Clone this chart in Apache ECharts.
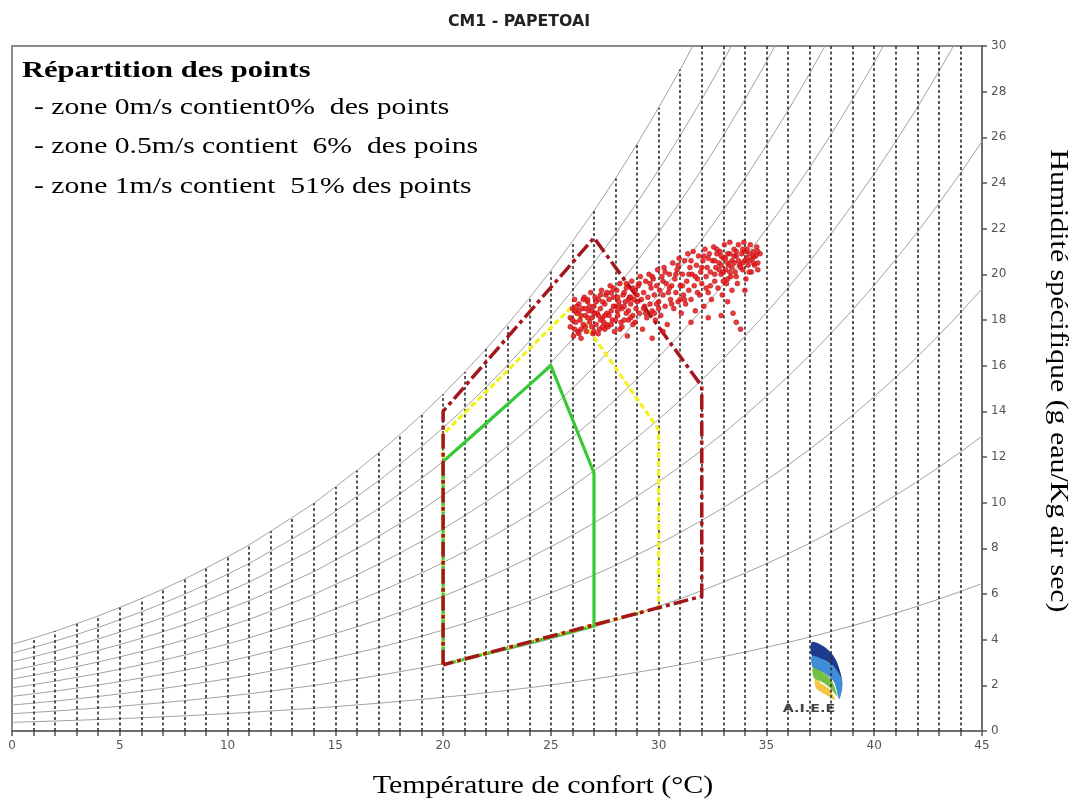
<!DOCTYPE html>
<html><head><meta charset="utf-8">
<script src="https://cdn.jsdelivr.net/npm/echarts/dist/echarts.min.js"></script>
<style>html,body{margin:0;padding:0;background:#fff}#chart{width:1077px;height:803px}</style>
</head><body><div id="chart"></div>
<script>
// ---------- texts ----------
const chartTitle = 'CM1 - PAPETOAI';
const xAxisTitle = 'Température de confort (°C)';
const yAxisTitle = 'Humidité spécifique (g eau/Kg air sec)';
const boxTitle = 'Répartition des points';
const boxLines = [
  '- zone 0m/s contient0%  des points',
  '- zone 0.5m/s contient  6%  des poins',
  '- zone 1m/s contient  51% des points'
];
const logoText = 'A.I.E.E';

// ---------- psychrometric background ----------
const temps = [0,1,2,3,4,5,6,7,8,9,10,11,12,13,14,15,16,17,18,19,20,21,22,23,24,25,26,27,28,29,30,31,32,33,34,35,36,37,38,39,40,41,42,43,44,45];
const satHumidity = [3.79,4.07,4.37,4.70,5.04,5.41,5.80,6.21,6.65,7.13,7.63,8.15,8.75,9.35,9.97,10.69,11.41,12.17,12.99,13.84,14.75,15.72,16.74,17.82,18.96,20.17,21.44,22.78,24.20,25.71,27.30,28.97,30.74,32.60,34.57,36.64,38.82,41.12,43.55,46.11,48.81,51.64,54.62,57.77,61.07,64.56];
const rhLevels = [10,20,30,40,50,60,70,80,90,100];
const xTickLabels = [0,5,10,15,20,25,30,35,40,45];
const yTickLabels = [0,2,4,6,8,10,12,14,16,18,20,22,24,26,28,30];

// ---------- comfort zones ----------
const zone1T  = [20, 20, 27, 32, 32, 20];
const zone1H  = [2.9, 14.0, 21.6, 15.1, 5.9, 2.9];
const zone05T = [20, 20, 26, 30, 30, 20];
const zone05H = [2.9, 13.0, 18.6, 13.2, 5.4, 2.9];
const zone0T  = [20, 20, 25, 27, 27, 20];
const zone0H  = [2.9, 11.8, 16.0, 11.3, 4.6, 2.9];

// ---------- measured points (T °C, humidity g/kg) ----------
const comfortPoints = [
[25.9,18.1],[25.9,17.7],[26.0,18.5],[26.05,17.3],[26.1,18.9],[26.15,17.9],[26.2,18.3],[26.25,17.5],[26.3,18.7],[26.35,18.0],
[26.4,17.2],[26.45,18.5],[26.5,17.8],[26.55,19.0],[26.6,18.2],[26.65,17.5],[26.7,18.8],[26.75,18.4],[26.8,17.9],[26.85,19.2],
[26.9,18.1],[26.95,17.4],[27.0,18.6],[27.05,19.0],[27.1,17.8],[27.15,18.3],[27.2,18.9],[27.25,17.6],[27.3,18.5],[27.35,19.3],
[27.4,18.1],[27.45,17.9],[27.5,18.7],[27.55,19.1],[27.6,18.3],[27.65,17.7],[27.7,18.9],[27.75,19.5],[27.8,18.4],[27.85,18.0],
[27.9,19.0],[27.95,17.5],[28.0,18.6],[28.05,19.3],[28.1,18.2],[28.15,18.8],[28.2,19.6],[28.25,17.9],[28.3,18.5],[28.35,19.1],
[28.4,18.0],[28.45,18.8],[28.5,19.4],[28.55,17.3],[28.6,18.4],[28.65,19.0],[28.7,18.7],[28.75,19.7],[28.8,18.2],[28.85,18.9],
[28.9,19.3],[28.95,18.5],
[26.0,18.0],[26.1,17.6],[26.2,18.6],[26.3,17.4],[26.4,18.2],[26.5,18.9],[26.6,17.7],[26.7,18.1],[26.8,18.6],[26.9,17.7],
[27.0,18.3],[27.1,18.8],[27.2,17.4],[27.3,18.0],[27.4,18.8],[27.5,17.6],[27.6,19.2],[27.7,18.2],[27.8,17.8],[27.9,18.6],
[28.0,18.0],[28.1,19.0],[28.2,18.6],[28.3,17.7],[28.4,19.2],[28.5,18.3],[28.6,18.9],[28.7,18.1],[28.8,19.4],[28.9,17.9],
[29.0,18.8],[29.05,19.5],[29.1,18.3],[29.15,19.9],[29.2,18.9],[29.25,17.6],[29.3,19.2],[29.35,18.6],[29.4,19.7],[29.45,18.1],
[29.5,19.0],[29.55,20.0],[29.6,18.7],[29.65,19.4],[29.7,18.4],[29.75,19.8],[29.8,19.1],[29.85,18.0],[29.9,19.5],[29.95,20.2],
[30.0,18.8],[30.05,19.3],[30.1,18.2],[30.15,19.9],[30.2,19.1],[30.25,20.3],[30.3,18.6],[30.35,19.6],[30.4,17.8],[30.45,19.2],
[30.5,20.0],[30.55,18.9],[30.6,19.5],[30.65,20.5],[30.7,18.5],[30.75,19.8],[30.8,19.2],[30.85,20.2],[30.9,18.8],[30.95,20.7],
[31.0,19.5],[31.05,18.3],[31.1,20.0],[31.15,19.1],[31.2,20.6],[31.25,18.7],[31.3,19.7],[31.35,20.9],[31.4,19.3],[31.45,20.3],
[31.5,18.9],[31.55,20.0],[31.6,21.0],[31.65,19.5],[31.7,18.4],[31.75,20.4],[31.8,19.8],[31.85,20.8],[31.9,19.1],[31.95,20.1],
[32.0,19.6],[32.05,20.6],[32.1,18.6],[32.15,21.1],[32.2,19.9],[32.25,20.3],[32.3,19.2],[32.35,20.9],[32.4,20.1],[32.45,18.9],
[32.5,20.6],[32.55,21.2],[32.6,19.7],[32.65,20.3],[32.7,20.9],[32.75,19.4],[32.8,20.5],[32.85,21.0],[32.9,20.0],[32.95,19.1],
[33.0,20.7],[33.05,21.3],[33.1,20.2],[33.15,19.6],[33.2,20.9],[33.25,20.4],[33.3,21.4],[33.35,19.9],[33.4,20.6],[33.45,18.3],
[33.5,21.1],[33.55,20.1],[33.6,20.8],[33.65,19.6],[33.7,21.3],[33.75,20.4],[33.8,17.6],[33.85,20.9],[33.9,20.2],[33.95,21.4],
[34.0,20.6],[34.05,19.8],[34.1,21.1],[34.15,20.4],[34.2,20.9],[34.25,21.3],[34.3,20.1],[34.35,20.7],[34.4,21.0],[34.45,20.4],
[34.5,20.8],[34.55,21.2],[34.6,20.5],[34.7,20.9],
[32.6,20.0],[32.8,20.2],[33.0,20.1],[33.1,20.7],[33.3,20.1],[33.4,20.3],[33.6,21.0],[33.7,20.6],[33.9,20.5],[34.0,21.0],
[34.2,20.6],[34.4,20.5],[33.2,19.8],[32.9,20.8],[33.5,20.5],
[32.9,18.2],[33.2,18.8],[31.5,17.9],[30.2,17.5],[34.0,19.3],[33.6,17.9],[29.7,17.2],[32.3,18.1],
[26.3,18.4],[26.6,18.5],[26.9,18.4],[27.2,18.2],[27.5,18.2],[27.8,19.2],[28.1,18.4],[28.4,18.6],[28.7,19.0],[29.0,19.1],
[29.3,18.5],[29.6,19.6],[29.9,18.7],[30.2,19.7],[30.5,19.4],[30.8,20.0],[31.1,19.5],[31.4,20.0],[31.7,19.9],[32.0,20.3],
[32.3,20.7],[32.6,20.6],[32.9,20.4],[33.2,20.5],[33.5,20.8],[33.8,20.3],[34.1,20.7],[34.4,20.8],[34.6,21.0],[33.9,21.1],
[33.3,20.9],[32.7,21.1],[32.1,20.8],[31.5,20.6],[30.9,20.4],[30.3,20.1],[29.7,19.9],[29.1,19.6],[28.5,19.6],[27.9,19.4],
[27.3,19.1],[26.7,18.9],[26.1,18.4],[26.4,17.6],[27.0,17.5],[27.6,17.8],[28.2,17.6],[28.8,17.8],[29.4,18.3],[30.0,18.5],
[30.6,18.7],[31.2,18.9],[31.8,19.2],[32.4,19.5],[33.0,19.7],[33.6,19.9],[34.2,20.1],[34.6,20.2],[33.4,19.3],[32.2,19.4],
[31.0,18.9],[29.8,18.3],[28.6,18.0],[27.4,17.7]
];

// ---------- chart ----------
const chart = echarts.init(document.getElementById('chart'), null, {renderer: 'canvas'});
const X_MIN = 0, X_MAX = 45, Y_MIN = 0, Y_MAX = 30;
const serif = '"Liberation Serif", "Times New Roman", serif';

const rhSeries = rhLevels.map(rh => ({
  type: 'line', name: 'HR ' + rh + '%', silent: true, symbol: 'none', z: 1,
  lineStyle: {color: '#a2a2a2', width: 1},
  data: temps.map((t, i) => [t, satHumidity[i] * rh / 100]),
  clip: true, animation: false
}));

const verticals = {
  type: 'lines', coordinateSystem: 'cartesian2d', silent: true, z: 2, animation: false,
  lineStyle: {color: '#2e2e2e', width: 1.6, type: [3, 2.5], opacity: 1},
  data: temps.filter(t => t > X_MIN && t < X_MAX).map(t => ({
    coords: [[t, Y_MIN], [t, Math.min(satHumidity[temps.indexOf(t)], Y_MAX)]]
  }))
};

function zoneSeries(name, T, H, color, type, width, z) {
  return {
    type: 'line', name, symbol: 'none', z, animation: false,
    lineStyle: {color, width, type, cap: 'butt', join: 'miter'},
    data: T.map((t, i) => [t, H[i]])
  };
}

const boxGraphics = [{
  type: 'text', x: 22, y: 71, scaleX: 1.3, z: 10,
  style: {text: boxTitle, font: 'bold 23.5px ' + serif, fill: '#000', textAlign: 'left', textVerticalAlign: 'middle'}
}].concat(boxLines.map((s, i) => ({
  type: 'text', x: 34, y: [108, 147, 187][i], scaleX: 1.29, z: 10,
  style: {text: s, font: '23px ' + serif, fill: '#000', textAlign: 'left', textVerticalAlign: 'middle'}
})));

const logo = {
  type: 'group', x: 812, y: 642, z: 5, silent: true,
  children: [
    {type: 'polygon', shape: {points: [[0,0],[14,6],[24,18],[30,38],[22,25],[12,18],[0,14]], smooth: 0.3}, style: {fill: '#1d3c8f'}},
    {type: 'polygon', shape: {points: [[0,14],[12,18],[22,25],[30,38],[30,48],[27,57],[22,40],[12,31],[1,26]], smooth: 0.3}, style: {fill: '#3d8ed6'}},
    {type: 'polygon', shape: {points: [[1,26],[12,31],[20,39],[25,54],[18,46],[10,40],[2,36]], smooth: 0.3}, style: {fill: '#74c043'}},
    {type: 'polygon', shape: {points: [[3,37],[10,42],[18,48],[23,58],[16,54],[9,50],[4,46]], smooth: 0.3}, style: {fill: '#f4c542'}},
    {type: 'text', x: -3, y: 67, scaleX: 1.3, style: {text: logoText, font: 'bold 11px "DejaVu Sans", sans-serif', fill: '#444', textAlign: 'center', textVerticalAlign: 'middle'}}
  ]
};

chart.setOption({
  backgroundColor: '#fff',
  animation: false,
  grid: {left: 12, right: 95, top: 46, bottom: 72, show: true, borderColor: '#8a8a8a', borderWidth: 2, containLabel: false},
  xAxis: {
    type: 'value', min: X_MIN, max: X_MAX, interval: 1,
    axisLine: {show: true, onZero: false, lineStyle: {color: '#6e6e6e', width: 2}},
    axisTick: {show: true, length: 5, lineStyle: {color: '#555', width: 1.5}},
    axisLabel: {margin: 9, color: '#555', fontSize: 12, fontFamily: '"DejaVu Sans", sans-serif',
      formatter: v => xTickLabels.includes(v) ? String(v) : ''},
    splitLine: {show: false}
  },
  yAxis: {
    type: 'value', min: Y_MIN, max: Y_MAX, interval: 2, position: 'right',
    axisLine: {show: true, onZero: false, lineStyle: {color: '#6e6e6e', width: 2}},
    axisTick: {show: true, length: 5, lineStyle: {color: '#555', width: 1.5}},
    axisLabel: {margin: 9, color: '#555', fontSize: 12, fontFamily: '"DejaVu Sans", sans-serif',
      formatter: v => yTickLabels.includes(v) ? String(v) : ''},
    splitLine: {show: false}
  },
  graphic: [
    {type: 'text', x: 519, y: 22, z: 10, scaleX: 1.05,
      style: {text: chartTitle, font: 'bold 15px "DejaVu Sans", sans-serif', fill: '#222', textAlign: 'center', textVerticalAlign: 'middle'}},
    {type: 'text', x: 543, y: 786, z: 10, scaleX: 1.2,
      style: {text: xAxisTitle, font: '25px ' + serif, fill: '#000', textAlign: 'center', textVerticalAlign: 'middle'}},
    {type: 'text', x: 1058, y: 381, z: 10, rotation: -Math.PI / 2, scaleX: 1.17,
      style: {text: yAxisTitle, font: '25.5px ' + serif, fill: '#000', textAlign: 'center', textVerticalAlign: 'middle'}},
    logo
  ].concat(boxGraphics),
  series: rhSeries.concat([
    verticals,
    zoneSeries('zone 0m/s', zone0T, zone0H, '#36c936', 'solid', 3.2, 4),
    zoneSeries('zone 0.5m/s', zone05T, zone05H, '#f2f21e', [6, 3], 3.2, 5),
    zoneSeries('zone 1m/s', zone1T, zone1H, '#a3161a', [15, 4, 4, 4], 3.5, 6),
    {
      type: 'scatter', name: 'points', z: 7, symbol: 'circle', symbolSize: 5, animation: false,
      itemStyle: {color: '#e8161a', opacity: 0.85, borderColor: '#a51212', borderWidth: 0.5},
      data: comfortPoints
    }
  ])
});
</script>
</body></html>
